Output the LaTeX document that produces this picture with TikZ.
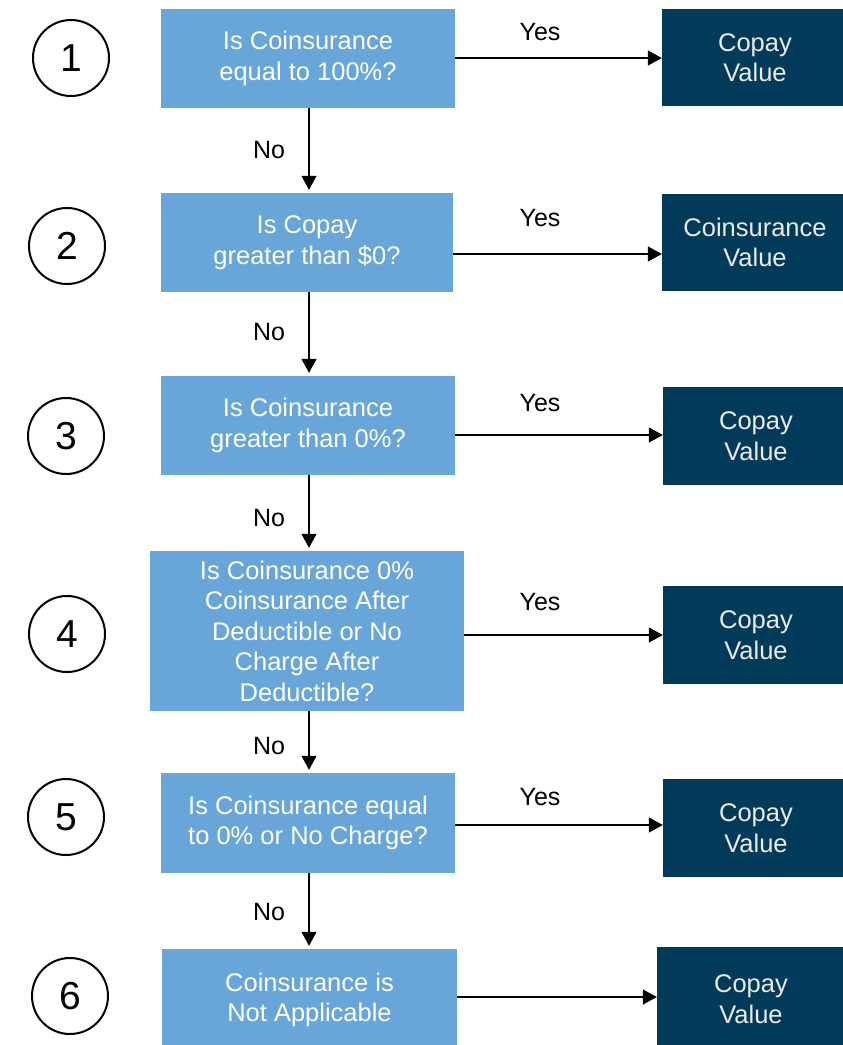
\documentclass[tikz,border=0pt]{standalone}
\usepackage{fontspec}
\setmainfont{Liberation Sans}
\usetikzlibrary{arrows.meta}
\definecolor{qblue}{RGB}{104,165,216}
\definecolor{navy}{RGB}{2,59,90}
\begin{document}
\begin{tikzpicture}[x=1pt,y=-1pt,
  question/.style={rectangle,fill=qblue,text=white,align=center,inner sep=0pt,
    font=\fontsize{25.5}{30.5}\selectfont},
  result/.style={rectangle,fill=navy,text=white!92!black,align=center,inner sep=0pt,
    font=\fontsize{25.5}{30.5}\selectfont},
  stepnum/.style={circle,draw=black,line width=2pt,minimum size=76pt,inner sep=0pt,
    font=\fontsize{39}{39}\selectfont},
  lbl/.style={font=\fontsize{25}{30}\selectfont,text=black,inner sep=0pt},
  arr/.style={draw=black,line width=1.4pt,-{Triangle[length=14pt,width=15pt]}}]
\useasboundingbox (0,0) rectangle (843,1045);
\clip (0,0) rectangle (843,1045);

% step numbers
\node[stepnum] (n1) at (71,58) {1};
\node[stepnum] (n2) at (67,246) {2};
\node[stepnum] (n3) at (66,436) {3};
\node[stepnum] (n4) at (67,634) {4};
\node[stepnum] (n5) at (66,817) {5};
\node[stepnum] (n6) at (70,996) {6};

% questions
\node[question,minimum width=294pt,minimum height=99pt] (q1) at (308,58.5) {Is Coinsurance\\equal to 100\%?};
\node[question,minimum width=292pt,minimum height=99pt] (q2) at (307,242.5) {Is Copay\\greater than \$0?};
\node[question,minimum width=294pt,minimum height=99pt] (q3) at (308,425.5) {Is Coinsurance\\greater than 0\%?};
\node[question,minimum width=314pt,minimum height=160pt] (q4) at (307,631) {Is Coinsurance 0\%\\Coinsurance After\\Deductible or No\\Charge After\\Deductible?};
\node[question,minimum width=294pt,minimum height=100pt] (q5) at (308,823) {Is Coinsurance equal\\to 0\% or No Charge?};
\node[question,minimum width=295pt,minimum height=102pt] (q6) at (309.5,1000) {Coinsurance is\\Not Applicable};

% results
\node[result,minimum width=186pt,minimum height=97pt] (r1) at (755,57.5) {Copay\\Value};
\node[result,minimum width=186pt,minimum height=97pt] (r2) at (755,242.5) {Coinsurance\\Value};
\node[result,minimum width=186pt,minimum height=98pt] (r3) at (756,436) {Copay\\Value};
\node[result,minimum width=186pt,minimum height=98pt] (r4) at (756,635) {Copay\\Value};
\node[result,minimum width=186pt,minimum height=98pt] (r5) at (756,828) {Copay\\Value};
\node[result,minimum width=188pt,minimum height=104pt] (r6) at (751,999) {Copay\\Value};

% guide coordinates for the connectors
\coordinate (xc) at (309,0);
\coordinate (y1) at (0,58);
\coordinate (y2) at (0,254);
\coordinate (y3) at (0,435);
\coordinate (y4) at (0,635);
\coordinate (y5) at (0,825);
\coordinate (y6) at (0,997);

% yes branches
\draw[arr] (q1.east |- y1) -- (r1.west |- y1);
\draw[arr] (q2.east |- y2) -- (r2.west |- y2);
\draw[arr] (q3.east |- y3) -- (r3.west |- y3);
\draw[arr] (q4.east |- y4) -- (r4.west |- y4);
\draw[arr] (q5.east |- y5) -- (r5.west |- y5);
\draw[arr] (q6.east |- y6) -- (r6.west |- y6);

% no branches
\draw[arr,shorten >=3pt] (q1.south -| xc) -- (q2.north -| xc);
\draw[arr,shorten >=3pt] (q2.south -| xc) -- (q3.north -| xc);
\draw[arr,shorten >=3pt] (q3.south -| xc) -- (q4.north -| xc);
\draw[arr,shorten >=3pt] (q4.south -| xc) -- (q5.north -| xc);
\draw[arr,shorten >=3pt] (q5.south -| xc) -- (q6.north -| xc);

% branch labels
\node[lbl] (yes1) at (540,32) {Yes};
\node[lbl] (yes2) at (540,218) {Yes};
\node[lbl] (yes3) at (540,403) {Yes};
\node[lbl] (yes4) at (540,602) {Yes};
\node[lbl] (yes5) at (540,797) {Yes};
\node[lbl] (no1) at (269,150) {No};
\node[lbl] (no2) at (269,332) {No};
\node[lbl] (no3) at (269,518) {No};
\node[lbl] (no4) at (269,746) {No};
\node[lbl] (no5) at (269,912) {No};
\end{tikzpicture}
\end{document}
